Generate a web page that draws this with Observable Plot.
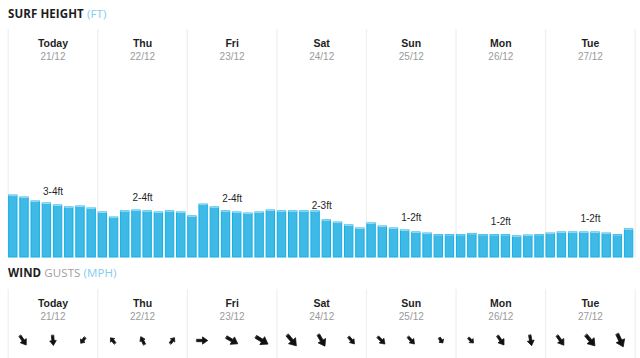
<!DOCTYPE html>
<html>
<head>
<meta charset="utf-8">
<script src="https://cdn.jsdelivr.net/npm/d3@7"></script>
<script src="https://cdn.jsdelivr.net/npm/@observablehq/plot@0.6"></script>
<style>
  html, body { margin: 0; padding: 0; background: #fff; width: 640px; height: 358px; overflow: hidden; }
  .title { position: absolute; left: 8px; font-family: "Open Sans", sans-serif; font-size: 11.5px; line-height: 12px; white-space: nowrap; letter-spacing: 0.1px; }
  .title b { color: #1d1d1d; font-weight: 700; }
  .title .g { color: #a0a0a0; font-weight: 400; }
  .title .u { color: #7fcdf0; font-weight: 400; }
  #surf { position: absolute; left: 0; top: 29px; }
  #wind { position: absolute; left: 0; top: 289px; }
</style>
</head>
<body>
<div class="title" style="top:8px"><b>SURF HEIGHT</b> <span class="u">(FT)</span></div>
<div id="surf"></div>
<div class="title" style="top:267px"><b>WIND</b> <span class="g">GUSTS</span> <span class="u">(MPH)</span></div>
<div id="wind"></div>
<script>
// ---- data ----
const days = ["Today", "Thu", "Fri", "Sat", "Sun", "Mon", "Tue"];
const dates = ["21/12", "22/12", "23/12", "24/12", "25/12", "26/12", "27/12"];
// surf height, 3-hourly, feet (8 per day)
const surfFt = [
  3.44, 3.33, 3.11, 3.00, 2.89, 2.78, 2.83, 2.72,
  2.50, 2.22, 2.56, 2.61, 2.56, 2.50, 2.56, 2.50,
  2.28, 2.94, 2.78, 2.56, 2.50, 2.44, 2.50, 2.61,
  2.56, 2.56, 2.56, 2.56, 2.06, 1.94, 1.78, 1.61,
  1.89, 1.72, 1.61, 1.50, 1.39, 1.33, 1.25, 1.25,
  1.25, 1.31, 1.25, 1.25, 1.25, 1.17, 1.22, 1.25,
  1.33, 1.39, 1.39, 1.39, 1.39, 1.33, 1.25, 1.56
];
const rangeLabels = ["3-4ft", "2-4ft", "2-4ft", "2-3ft", "1-2ft", "1-2ft", "1-2ft"];
const rangeLabelFt = [3.67, 3.33, 3.28, 2.89, 2.22, 1.96, 2.17];
// wind gusts, 3 per day: direction the arrow points (deg clockwise from north), gust mph
const gustDir = [146, 175, 217, 320, 335, 37, 90, 120, 121, 140, 150, 140, 135, 138, 145, 135, 145, 170, 145, 140, 155];
const gustMph = [22, 20, 14, 14, 17, 14, 22, 26, 28, 28, 26, 18, 20, 19, 12, 14, 22, 21, 23, 28, 28];

const perDay = 8;
const nBars = surfFt.length;
const bars = surfFt.map((h, i) => ({i, h}));
const dayRows = days.map((d, k) => ({k, day: d, date: dates[k], label: rangeLabels[k], at: rangeLabelFt[k]}));
const bounds = d3.range(0, days.length + 1).map(k => k * perDay);
const gusts = gustDir.map((dir, j) => ({j, dir, mph: gustMph[j], x: Math.floor(j / 3) * perDay + ((j % 3) + 0.5) * perDay / 3}));

const font = "'Liberation Sans', Arial, sans-serif";
const sepColor = "#efefef";

const common = {
  width: 640,
  marginLeft: 7.7,
  marginRight: 5.3,
  style: {fontFamily: font, background: "transparent", overflow: "visible"},
  x: {domain: [0, nBars], axis: null}
};

const headerMarks = [
  Plot.ruleX(bounds, {x: d => d, stroke: sepColor, strokeWidth: 1.2}),
  Plot.text(dayRows, {x: d => d.k * perDay + perDay / 2, text: "day", frameAnchor: "top", lineAnchor: "bottom", dy: 17.5, fontWeight: "bold", fontSize: 10.5, fill: "#1f1f1f"}),
  Plot.text(dayRows, {x: d => d.k * perDay + perDay / 2, text: "date", frameAnchor: "top", lineAnchor: "bottom", dy: 30.5, fontSize: 10, fill: "#9a9a9a"})
];

const surf = Plot.plot({
  ...common,
  height: 231,
  marginTop: 0,
  marginBottom: 3,
  y: {domain: [0, 228 / 18], axis: null},
  marks: [
    ...headerMarks,
    Plot.rectY(bars, {x1: d => d.i, x2: d => d.i + 1, y: "h", insetLeft: 0.9, insetRight: 1.9, fill: "#3fbae7", stroke: "#14afe6", strokeWidth: 1}),
    Plot.ruleY(bars, {x1: d => d.i, x2: d => d.i + 1, y: "h", insetLeft: 0.9, insetRight: 1.9, stroke: "#92d8f3", strokeWidth: 1}),
    Plot.text(dayRows, {x: d => d.k * perDay + perDay / 2, y: "at", text: "label", fontSize: 10, fill: "#1f1f1f"})
  ]
});
document.getElementById("surf").append(surf);

const arrowShape = {
  draw(context, l, r) {
    const head = l * 0.48, hw = Math.max(2.8, l * 0.33), sw = Math.max(1.2, l * 0.11);
    context.moveTo(-sw, 0);
    context.lineTo(-sw, -l + head);
    context.lineTo(-hw, -l + head);
    context.lineTo(0, -l);
    context.lineTo(hw, -l + head);
    context.lineTo(sw, -l + head);
    context.lineTo(sw, 0);
    context.closePath();
  }
};

function windPlot(shape) {
  return Plot.plot({
    ...common,
    height: 69,
    marginTop: 0,
    marginBottom: 0,
    y: {domain: [0, 1], axis: null},
    length: {type: "linear", domain: [0, 30], range: [0, 15]},
    marks: [
      ...headerMarks,
      Plot.vector(gusts, {x: "x", frameAnchor: "top", dy: 51, rotate: "dir", length: "mph", anchor: "middle", shape,
        fill: shape === "arrow" ? "none" : "#111", stroke: "#111", strokeWidth: shape === "arrow" ? 2.4 : 0.7, strokeLinejoin: "miter"})
    ]
  });
}
let wind;
try { wind = windPlot(arrowShape); } catch (e) { wind = windPlot("arrow"); }
document.getElementById("wind").append(wind);
</script>
</body>
</html>
